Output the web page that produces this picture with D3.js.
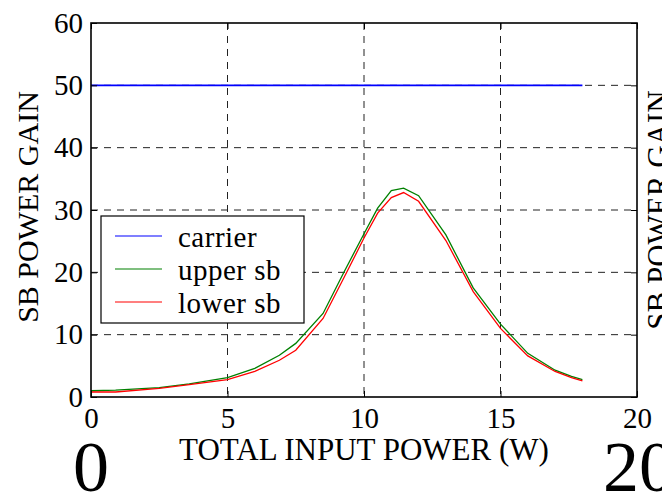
<!DOCTYPE html>
<html>
<head>
<meta charset="utf-8">
<script src="https://cdn.jsdelivr.net/npm/d3@7"></script>
<style>
  html, body { margin: 0; padding: 0; background: #fff; }
  svg { display: block; font-family: "Liberation Serif", "Times New Roman", serif; }
</style>
</head>
<body>
<div id="chart"></div>
<script>
// Data
const inputPower = [0, 0.9, 2.5, 3.6, 5.0, 6.0, 6.9, 7.5, 8.5, 9.25, 10.0, 10.5, 11.0, 11.45, 12.0, 13.0, 14.0, 15.0, 16.0, 17.0, 17.6, 18.0];
const carrierGain = [50, 50, 50, 50, 50, 50, 50, 50, 50, 50, 50, 50, 50, 50, 50, 50, 50, 50, 50, 50, 50, 50];
const upperSbGain = [1.0, 1.1, 1.5, 2.1, 3.1, 4.6, 6.7, 8.6, 13.4, 19.9, 26.2, 30.3, 33.1, 33.5, 32.3, 26.0, 17.5, 11.7, 7.0, 4.3, 3.3, 2.8];
const lowerSbGain = [0.8, 0.8, 1.4, 2.0, 2.8, 4.1, 5.9, 7.5, 12.6, 19.0, 25.5, 29.5, 32.0, 32.8, 31.4, 25.1, 16.9, 11.0, 6.6, 4.1, 3.1, 2.6];

const seriesNames = ["carrier", "upper sb", "lower sb"];
const seriesColors = ["#0000ff", "#008000", "#ff0000"];
const xTicks = [0, 5, 10, 15, 20];
const yTicks = [0, 10, 20, 30, 40, 50, 60];

const width = 662, height = 494;
const plot = { left: 91, right: 637, top: 23, bottom: 397 };

const svg = d3.select("#chart").append("svg")
  .attr("width", width)
  .attr("height", height);

const x = d3.scaleLinear([0, 20], [plot.left, plot.right]);
const y = d3.scaleLinear([0, 60], [plot.bottom, plot.top]);

// grid (dashed)
const grid = svg.append("g")
  .attr("stroke", "#222")
  .attr("stroke-width", 1)
  .attr("stroke-dasharray", "7,6");
grid.selectAll("line.gx")
  .data(xTicks.slice(1, -1))
  .join("line")
    .attr("x1", d => x(d)).attr("x2", d => x(d))
    .attr("y1", plot.top).attr("y2", plot.bottom);
grid.selectAll("line.gy")
  .data(yTicks.slice(1, -1))
  .join("line")
    .attr("class", "gy")
    .attr("y1", d => y(d)).attr("y2", d => y(d))
    .attr("x1", plot.left).attr("x2", plot.right);

// series
const line = d3.line()
  .x(d => x(d[0]))
  .y(d => y(d[1]));

[carrierGain, upperSbGain, lowerSbGain].forEach((vals, i) => {
  svg.append("path")
    .datum(d3.zip(inputPower, vals))
    .attr("fill", "none")
    .attr("stroke", seriesColors[i])
    .attr("stroke-width", i === 0 ? 1.7 : 1.3)
    .attr("d", line);
});

// axes with inward ticks (all four sides)
const tickLen = 6;
const axB = d3.axisBottom(x).tickValues(xTicks).tickSize(-tickLen).tickPadding(10);
const axT = d3.axisTop(x).tickValues(xTicks).tickSize(-tickLen).tickFormat("");
const axL = d3.axisLeft(y).tickValues(yTicks).tickSize(-tickLen).tickPadding(8);
const axR = d3.axisRight(y).tickValues(yTicks).tickSize(-tickLen).tickFormat("");

function styleAxis(g) {
  g.select(".domain").remove();
  g.selectAll(".tick line").attr("stroke", "#000").attr("stroke-width", 1);
  g.selectAll("text")
    .attr("fill", "#000")
    .style("font-family", "'Liberation Serif', 'Times New Roman', serif")
    .style("font-size", "29px");
}

svg.append("g").attr("transform", `translate(0,${plot.bottom})`).call(axB).call(styleAxis);
svg.append("g").attr("transform", `translate(0,${plot.top})`).call(axT).call(styleAxis);
svg.append("g").attr("transform", `translate(${plot.left},0)`).call(axL).call(styleAxis);
svg.append("g").attr("transform", `translate(${plot.right},0)`).call(axR).call(styleAxis);

// frame
svg.append("rect")
  .attr("x", plot.left).attr("y", plot.top)
  .attr("width", plot.right - plot.left)
  .attr("height", plot.bottom - plot.top)
  .attr("fill", "none")
  .attr("stroke", "#000")
  .attr("stroke-width", 1.6);

// axis titles
svg.append("text")
  .attr("x", (plot.left + plot.right) / 2)
  .attr("y", 460)
  .attr("text-anchor", "middle")
  .style("font-size", "31px")
  .text("TOTAL INPUT POWER (W)");

svg.append("text")
  .attr("transform", `translate(38,207) rotate(-90)`)
  .attr("text-anchor", "middle")
  .style("font-size", "30px")
  .text("SB POWER GAIN");

// clipped label on the right edge
svg.append("text")
  .attr("transform", `translate(669,210) rotate(-90)`)
  .attr("text-anchor", "middle")
  .style("font-size", "31px")
  .text("SB POWER GAIN");

// big labels at the bottom
svg.append("text")
  .attr("x", x(0)).attr("y", 491)
  .attr("text-anchor", "middle")
  .style("font-size", "72px")
  .text("0");
svg.append("text")
  .attr("x", x(20) + 2).attr("y", 491)
  .attr("text-anchor", "middle")
  .style("font-size", "72px")
  .text("20");

// legend
const legend = svg.append("g");
legend.append("rect")
  .attr("x", 101).attr("y", 216)
  .attr("width", 203).attr("height", 107)
  .attr("fill", "#fff")
  .attr("stroke", "#000")
  .attr("stroke-width", 1.2);

seriesNames.forEach((name, i) => {
  const ly = 236 + i * 33;
  legend.append("line")
    .attr("x1", 115).attr("x2", 162)
    .attr("y1", ly).attr("y2", ly)
    .attr("stroke", seriesColors[i])
    .attr("stroke-width", 1.2);
  legend.append("text")
    .attr("x", 178).attr("y", ly + 11)
    .style("font-size", "29px")
    .style("letter-spacing", "0.5px")
    .text(name);
});
</script>
</body>
</html>
